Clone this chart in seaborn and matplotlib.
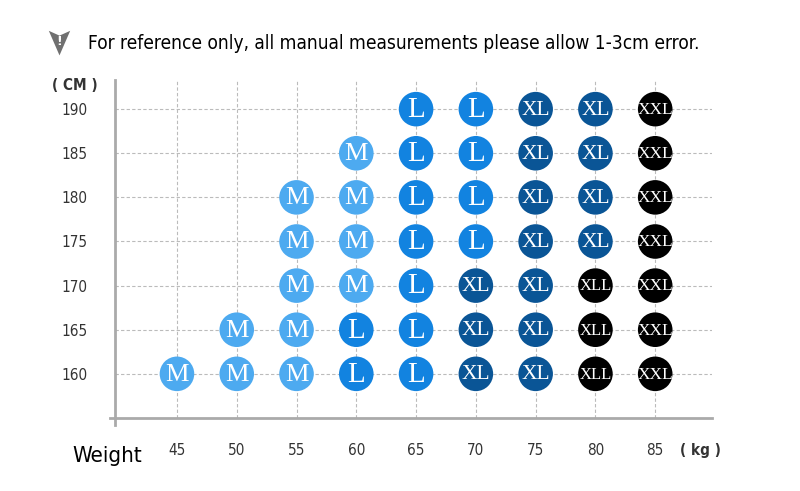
import pandas as pd
import seaborn as sns
import matplotlib.pyplot as plt
from matplotlib.lines import Line2D

# size chart data: one list per height row, '' = no size
weights = [45, 50, 55, 60, 65, 70, 75, 80, 85]
heights = [190, 185, 180, 175, 170, 165, 160]
row_190 = ['', '', '', '', 'L', 'L', 'XL', 'XL', 'XXL']
row_185 = ['', '', '', 'M', 'L', 'L', 'XL', 'XL', 'XXL']
row_180 = ['', '', 'M', 'M', 'L', 'L', 'XL', 'XL', 'XXL']
row_175 = ['', '', 'M', 'M', 'L', 'L', 'XL', 'XL', 'XXL']
row_170 = ['', '', 'M', 'M', 'L', 'XL', 'XL', 'XLL', 'XXL']
row_165 = ['', 'M', 'M', 'L', 'L', 'XL', 'XL', 'XLL', 'XXL']
row_160 = ['M', 'M', 'M', 'L', 'L', 'XL', 'XL', 'XLL', 'XXL']
rows = [row_190, row_185, row_180, row_175, row_170, row_165, row_160]

size_colors = {'M': '#4DAAF0', 'L': '#1283E0', 'XL': '#0A5596',
               'XLL': '#000000', 'XXL': '#000000'}
label_sizes = {'M': 19, 'L': 21, 'XL': 15.5, 'XLL': 12, 'XXL': 12.5}

recs = []
for h, row in zip(heights, rows):
    for i, s in enumerate(row):
        if s:
            recs.append({'pos': i, 'height': h, 'size': s})
df = pd.DataFrame(recs)

sns.set_style('white')
plt.rcParams['font.family'] = ['DejaVu Sans']
plt.rcParams['font.stretch'] = 'condensed'

fig = plt.figure(figsize=(8, 4.91), dpi=100)
ax = fig.add_axes([0.1375, 0.1344, 0.7525, 0.7026])

# dashed grid
for h in heights:
    ax.plot([-1.03, 8.95], [h, h], ls=(0, (3, 2)), color='#BBBBBB', lw=0.8, zorder=1)
for i in range(len(weights)):
    ax.plot([i, i], [155, 193.3], ls=(0, (3, 2)), color='#BBBBBB', lw=0.8, zorder=1)

sns.scatterplot(data=df, x='pos', y='height', hue='size', palette=size_colors,
                s=620, edgecolor='none', legend=False, ax=ax, zorder=3)
for _, r in df.iterrows():
    ax.text(r['pos'], r['height'] - 0.1, r['size'], color='white',
            family='Liberation Serif', stretch='normal', fontsize=label_sizes[r['size']],
            ha='center', va='center', zorder=4)

ax.set_xlim(-1.12, 8.95)
ax.set_ylim(154.2, 193.3)
ax.spines['top'].set_visible(False)
ax.spines['right'].set_visible(False)
for sp in ['left', 'bottom']:
    ax.spines[sp].set_color('#AAAAAA')
    ax.spines[sp].set_linewidth(2)
ax.spines['left'].set_position(('data', -1.03))
ax.spines['bottom'].set_position(('data', 155))

ax.set_xticks(range(len(weights)))
ax.set_xticklabels(weights)
ax.set_yticks(heights)
ax.set_yticklabels(heights)
ax.tick_params(axis='x', length=0, pad=18, labelsize=11, labelcolor='#333333')
ax.tick_params(axis='y', length=0, pad=20, labelsize=11, labelcolor='#333333')
ax.set_xlabel('')
ax.set_ylabel('')

fig.text(0.065, 0.825, '( CM )', fontsize=11, fontweight='bold', color='#333333',
         ha='left', va='center')
fig.text(0.850, 0.082, '( kg )', fontsize=11, fontweight='bold', color='#333333',
         ha='left', va='center')
fig.text(0.091, 0.072, 'Weight', fontsize=16, color='black', ha='left', va='center')

# warning icon (notched arrowhead) + title
icon = [(-1, 1), (0, 0.55), (1, 1), (0, -1.3), (-1, 1)]
fig.add_artist(Line2D([0.0738], [0.917], marker=icon, markersize=20, color='#707070',
                      markeredgewidth=0, transform=fig.transFigure))
fig.text(0.0738, 0.915, '!', fontsize=9, color='white', fontweight='bold',
         ha='center', va='center', stretch='normal')
fig.text(0.110, 0.912, 'For reference only, all manual measurements please allow 1-3cm error.',
         fontsize=13.7, color='black', ha='left', va='center')

plt.savefig('out.png', dpi=100)
